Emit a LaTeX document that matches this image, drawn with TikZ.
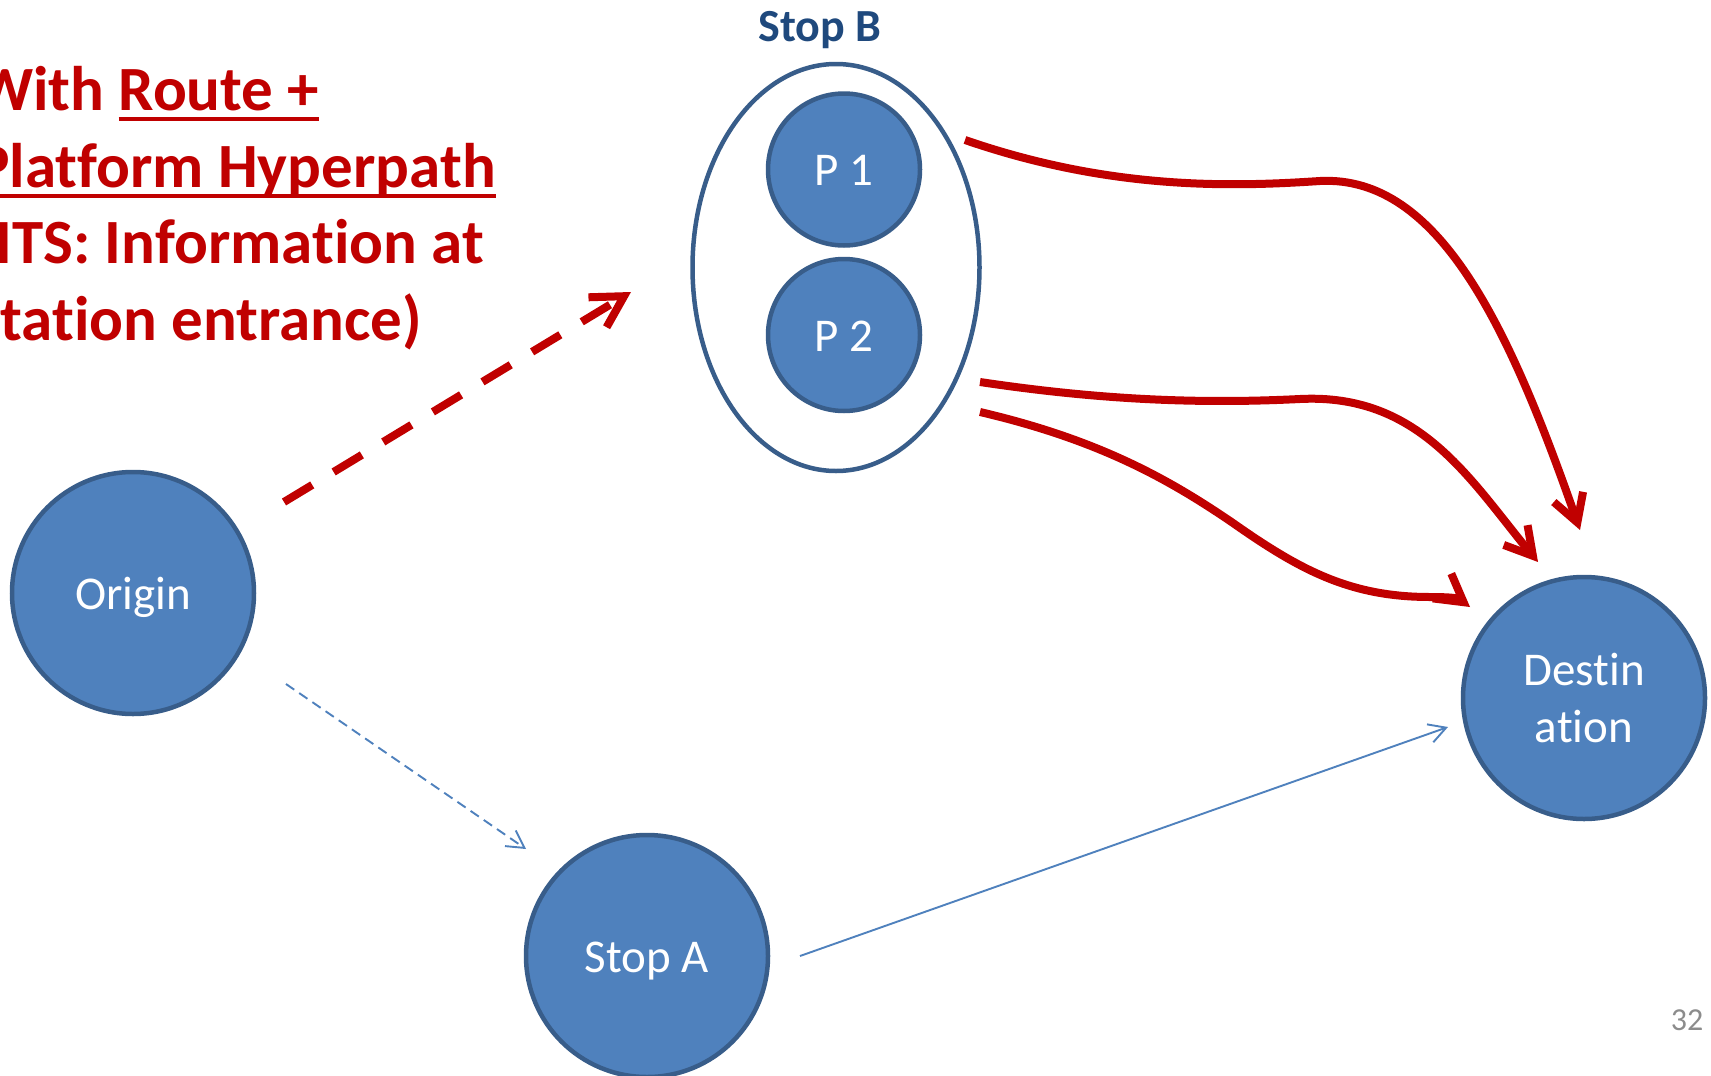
\documentclass[tikz,border=0pt]{standalone}
\usepackage{fontspec}
\setmainfont{Carlito}[RawFeature={-liga;-clig;-calt;-dlig}]
\usetikzlibrary{arrows.meta,shapes.geometric}

\definecolor{nodefill}{HTML}{4F81BD}
\definecolor{nodeline}{HTML}{385D8A}
\definecolor{hyperred}{HTML}{C00000}
\definecolor{stoplabel}{HTML}{1F497D}
\definecolor{pagegray}{HTML}{8C8C8C}

% thick underline set just below the baseline
\newcommand\titleul[1]{\leavevmode\setbox0=\hbox{#1}\rlap{\rule[-10.5pt]{\wd0}{4pt}}\box0}

\begin{document}
\begin{tikzpicture}[x=1pt,y=-1pt,
  place/.style={circle, draw=nodeline, line width=4.5pt, fill=nodefill, text=white,
    inner sep=0pt, font=\fontsize{47}{57.3}\selectfont, align=center},
  oneline/.style={text height=44.7pt, text depth=12.6pt},
  titleline/.style={anchor=base west, inner sep=0pt, text=hyperred,
    font=\fontsize{63}{77}\selectfont\bfseries},
  reddash/.style={draw=hyperred, line width=8pt, dash pattern=on 33pt off 25pt,
    -{Straight Barb[length=31pt,width=35pt]}},
  redflow/.style={draw=hyperred, line width=8pt,
    -{Straight Barb[length=27pt,width=31pt]}},
  bluedash/.style={draw=nodefill, line width=1.9pt, dash pattern=on 10pt off 6pt,
    -{Straight Barb[length=17pt,width=19pt]}},
  blueline/.style={draw=nodefill, line width=1.9pt,
    -{Straight Barb[length=17pt,width=19pt]}}
]
\useasboundingbox (0,0) rectangle (1711,1076);

% heading, left aligned and running past the left edge
\node[titleline] (t1) at (-24,110) {With \titleul{Route +}};
\node[titleline] (t2) at (-24,187) {\titleul{Platform Hyperpath}};
\node[titleline] (t3) at (-24,263) {(ITS: Information at};
\node[titleline] (t4) at (-24,340) {station entrance)};

% stop B with its two platforms
\node[ellipse, draw=nodeline, line width=4.5pt, fill=white,
  minimum width=287pt, minimum height=407pt] (stopB) at (836,267.5) {};
\node[anchor=base, inner sep=0pt, text=stoplabel,
  font=\fontsize{46}{55}\selectfont\bfseries] (stopBlabel) at (820,41) {Stop B};
\node[place, oneline, minimum size=152pt] (p1) at (844,169.5) {P 1};
\node[place, oneline, minimum size=152pt] (p2) at (844,335) {P 2};

% origin, stop A, destination
\node[place, oneline, minimum size=242pt] (origin) at (133,593) {Origin};
\node[place, oneline, minimum size=242pt] (stopA) at (647,956) {Stop A};
\node[place, minimum size=242pt] (dest) at (1584,698) {Destin\\ation};

% connector end points
\coordinate (od0) at (284,502);  \coordinate (od1) at (631,292);
\coordinate (oa0) at (286,684);  \coordinate (oa1) at (526,849);
\coordinate (ad0) at (800,956);  \coordinate (ad1) at (1448,727);
\coordinate (pa0) at (965,140);  \coordinate (pa1) at (1580,530);
\coordinate (pb0) at (980,382);  \coordinate (pb1) at (1538,562);
\coordinate (pc0) at (980,412);  \coordinate (pc1) at (1470,607);

% origin to stop B (hyperpath choice)
\draw[reddash] (od0) -- (od1);
% origin to stop A and on to the destination
\draw[bluedash] (oa0) -- (oa1);
\draw[blueline] (ad0) -- (ad1);

% platform lines to the destination
\draw[redflow] (pa0) .. controls (1110,190) and (1230,187) .. (1320,181)
  .. controls (1440,175) and (1510,330) .. (pa1);
\draw[redflow] (pb0) .. controls (1100,400) and (1200,404) .. (1300,399)
  .. controls (1420,393) and (1470,480) .. (pb1);
\draw[redflow] (pc0) .. controls (1100,440) and (1170,480) .. (1233,523)
  .. controls (1300,570) and (1350,597) .. (1430,597)
  .. controls (1450,597) and (1458,598) .. (pc1);

% slide number
\node[anchor=base, inner sep=0pt, text=pagegray, font=\fontsize{32}{38}\selectfont]
  (pageno) at (1687,1030) {32};
\end{tikzpicture}
\end{document}
